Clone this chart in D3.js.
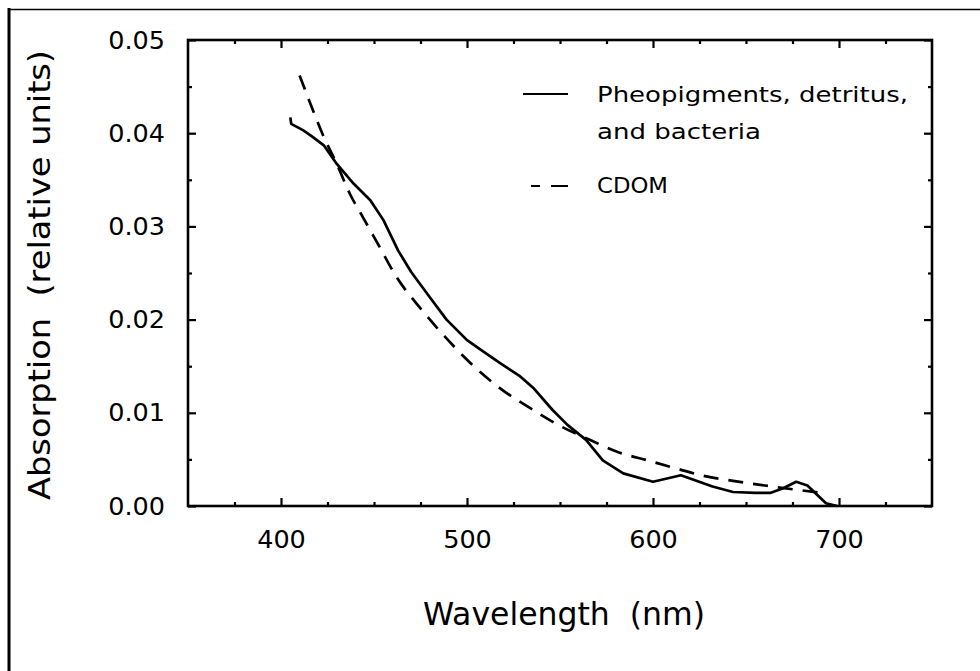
<!DOCTYPE html>
<html>
<head>
<meta charset="utf-8">
<script src="https://cdn.jsdelivr.net/npm/d3@7"></script>
<style>
  html, body { margin: 0; padding: 0; background: #fff; }
  svg { display: block; }
  text { font-family: "DejaVu Sans", sans-serif; fill: #000; white-space: pre; }
</style>
</head>
<body>
<svg id="chart" width="980" height="671"></svg>
<script>
// ---- data ----
const pheoWavelength = [405, 405.5, 412, 417, 423, 430, 439, 448, 455, 463, 470, 480, 489, 500, 510, 518, 528, 536, 546, 554, 564, 573, 584, 600, 615, 632, 643, 655, 663, 670, 677, 683, 693, 699];
const pheoAbsorption = [0.0417, 0.0410, 0.0403, 0.0396, 0.0387, 0.0367, 0.0346, 0.0328, 0.0307, 0.0274, 0.0251, 0.0224, 0.0200, 0.0178, 0.0164, 0.0153, 0.0140, 0.0126, 0.0103, 0.0087, 0.0071, 0.0049, 0.0035, 0.0026, 0.0033, 0.0021, 0.0015, 0.0014, 0.0014, 0.0019, 0.0026, 0.0022, 0.0003, 0.0000];

const cdomWavelength = [410, 416.5, 423, 430, 437, 444, 453, 462, 475, 488, 500, 518, 534, 549, 566, 581, 597, 613, 628, 643, 660, 675, 691];
const cdomAbsorption = [0.0462, 0.0428, 0.0396, 0.0367, 0.0335, 0.0310, 0.0278, 0.0246, 0.0212, 0.0182, 0.0157, 0.0126, 0.0105, 0.0087, 0.0071, 0.0058, 0.0049, 0.0040, 0.0032, 0.0027, 0.0022, 0.0018, 0.0014];

const xMajorTicks = [400, 500, 600, 700];
const xMinorTicks = [375, 425, 450, 475, 525, 550, 575, 625, 650, 675, 725];
const yMajorTicks = [0, 0.01, 0.02, 0.03, 0.04, 0.05];
const yMinorTicks = [0.005, 0.015, 0.025, 0.035, 0.045];

const legendLabels = ["Pheopigments, detritus,", "and bacteria", "CDOM"];
const xTitle = "Wavelength  (nm)";
const yTitle = "Absorption  (relative units)";

// ---- layout ----
const svg = d3.select("#chart");
const L = 188, R = 932, T = 40, B = 506;

const x = d3.scaleLinear().domain([350, 750]).range([L, R]);
const y = d3.scaleLinear().domain([0, 0.05]).range([B, T]);

// outer border (top and left visible)
svg.append("line").attr("x1", 8).attr("x2", 980).attr("y1", 9.5).attr("y2", 9.5)
  .attr("stroke", "#000").attr("stroke-width", 1.5);
svg.append("line").attr("x1", 9).attr("x2", 9).attr("y1", 8).attr("y2", 671)
  .attr("stroke", "#000").attr("stroke-width", 3);

// axes with inward ticks on all sides
const fmtY = d3.format(".2f");
function addAxis(axis, tx, ty) {
  const g = svg.append("g").attr("transform", `translate(${tx},${ty})`).call(axis);
  g.select(".domain").remove();
  g.selectAll("line").attr("stroke", "#000").attr("stroke-width", 2.2);
  return g;
}
// bottom
const bMaj = addAxis(d3.axisBottom(x).tickValues(xMajorTicks).tickSize(-8).tickPadding(24).tickFormat(d3.format("d")), 0, B);
bMaj.selectAll("text").attr("font-size", 25.5).attr("font-family", "DejaVu Sans").attr("fill", "#000");
addAxis(d3.axisBottom(x).tickValues(xMinorTicks).tickSize(-4).tickFormat(""), 0, B);
// top
addAxis(d3.axisTop(x).tickValues(xMajorTicks).tickSize(-8).tickFormat(""), 0, T);
addAxis(d3.axisTop(x).tickValues(xMinorTicks).tickSize(-4).tickFormat(""), 0, T);
// left
const lMaj = addAxis(d3.axisLeft(y).tickValues(yMajorTicks).tickSize(-8).tickPadding(23).tickFormat(fmtY), L, 0);
lMaj.selectAll("text").attr("font-size", 25.5).attr("font-family", "DejaVu Sans").attr("fill", "#000");
addAxis(d3.axisLeft(y).tickValues(yMinorTicks).tickSize(-4).tickFormat(""), L, 0);
// right
addAxis(d3.axisRight(y).tickValues(yMajorTicks).tickSize(-8).tickFormat(""), R, 0);
addAxis(d3.axisRight(y).tickValues(yMinorTicks).tickSize(-4).tickFormat(""), R, 0);

// frame
svg.append("rect").attr("x", L).attr("y", T).attr("width", R - L).attr("height", B - T)
  .attr("fill", "none").attr("stroke", "#000").attr("stroke-width", 2.6);

// curves
const line = d3.line().x(d => x(d[0])).y(d => y(d[1]));
const pheo = pheoWavelength.map((w, i) => [w, pheoAbsorption[i]]);
const cdom = cdomWavelength.map((w, i) => [w, cdomAbsorption[i]]);

svg.append("path").datum(pheo).attr("d", line.curve(d3.curveLinear))
  .attr("fill", "none").attr("stroke", "#000").attr("stroke-width", 2.7)
  .attr("stroke-linejoin", "round");
svg.append("path").datum(cdom).attr("d", line.curve(d3.curveMonotoneX))
  .attr("fill", "none").attr("stroke", "#000").attr("stroke-width", 2.7)
  .attr("stroke-dasharray", "15,10");

// legend
svg.append("line").attr("x1", 523).attr("x2", 568).attr("y1", 94).attr("y2", 94)
  .attr("stroke", "#000").attr("stroke-width", 2.2);
svg.append("line").attr("x1", 531).attr("x2", 568).attr("y1", 186).attr("y2", 186)
  .attr("stroke", "#000").attr("stroke-width", 2.2).attr("stroke-dasharray", "9,11,17");

const legText = [
  {t: legendLabels[0], y: 102, w: 311},
  {t: legendLabels[1], y: 139, w: 164},
  {t: legendLabels[2], y: 193, w: 71}
];
svg.selectAll("text.leg").data(legText).enter().append("text")
  .attr("class", "leg").attr("x", 597).attr("y", d => d.y)
  .attr("font-size", 21).attr("textLength", d => d.w).attr("lengthAdjust", "spacingAndGlyphs")
  .text(d => d.t);

// axis titles
svg.append("text").attr("x", 423).attr("y", 625).attr("font-size", 32)
  .attr("textLength", 282).attr("lengthAdjust", "spacingAndGlyphs").text(xTitle);
svg.append("text").attr("transform", "translate(50,275) rotate(-90)")
  .attr("text-anchor", "middle").attr("font-size", 30)
  .attr("textLength", 450).attr("lengthAdjust", "spacingAndGlyphs").text(yTitle);
</script>
</body>
</html>
